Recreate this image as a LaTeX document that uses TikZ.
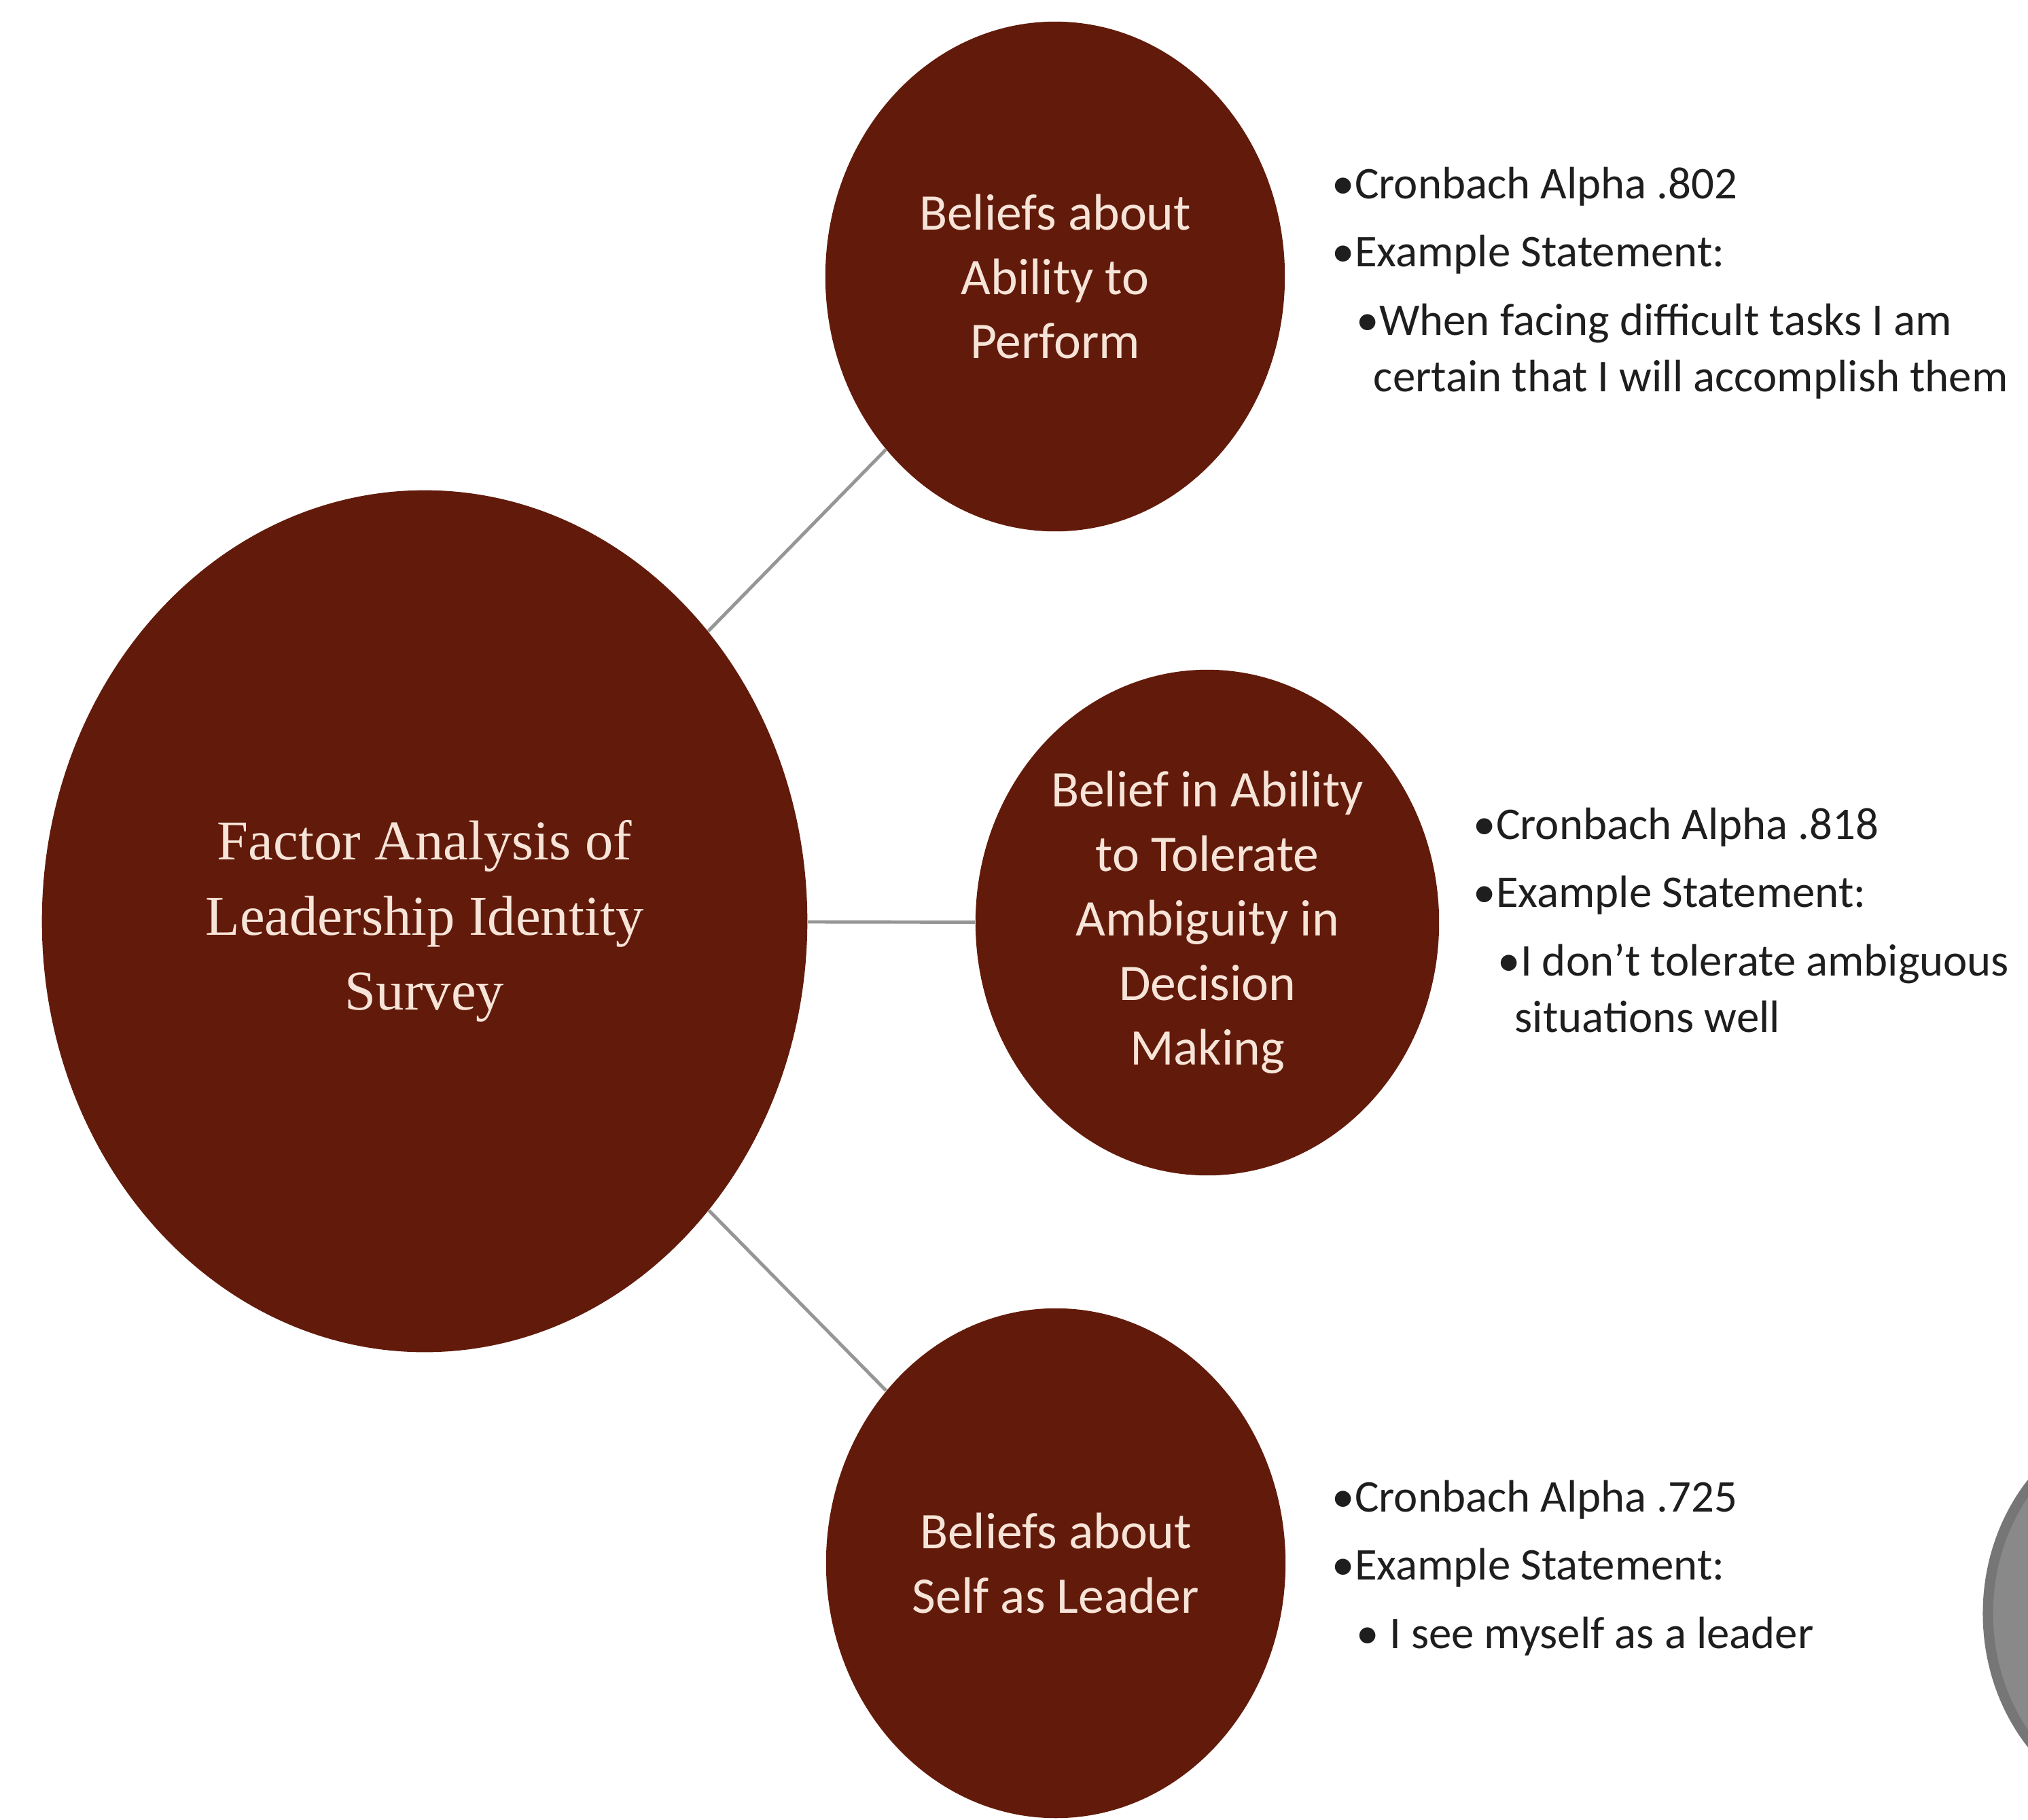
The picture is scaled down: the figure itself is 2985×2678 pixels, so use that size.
\documentclass[tikz,border=0pt]{standalone}
\usepackage{fontspec}
\setmainfont{Carlito}
\newfontfamily\serifface{Liberation Serif}
\usetikzlibrary{shapes.geometric}
\definecolor{maroon}{RGB}{98,27,11}
\definecolor{pinkish}{RGB}{247,228,216}
\definecolor{linkgray}{RGB}{150,150,150}
\definecolor{discgray}{RGB}{137,137,137}
\definecolor{rimgray}{RGB}{118,118,118}
\definecolor{notetext}{RGB}{30,30,30}
\begin{document}
\begin{tikzpicture}
  [x=0.01cm,y=-0.01cm]
  \tikzstyle{factor} = [ellipse,fill=maroon,text=pinkish,inner sep=0pt,align=center,font=\fontsize{21.5}{27}\selectfont]
  \tikzstyle{note} = [anchor=north west,inner sep=0pt,align=left,text=notetext,font=\fontsize{19}{23.8}\selectfont]
  \useasboundingbox (0,0) rectangle (2985,2678);
  % grey disc cut by the right edge
  \begin{scope}
    \clip (0,0) rectangle (2985,2678);
    \filldraw[fill=discgray,draw=rimgray,line width=4.3pt] (3188,2375) ellipse [x radius=262, y radius=292];
  \end{scope}
  \node[factor,minimum width=11.26cm,minimum height=12.68cm,font=\serifface\fontsize{23.5}{31.5}\selectfont] (survey) at (625,1356) {Factor Analysis of\\Leadership Identity\\Survey};
  \node[factor,minimum width=6.76cm,minimum height=7.5cm] (perform) at (1553,407) {Beliefs about\\Ability to\\Perform};
  \node[factor,minimum width=6.82cm,minimum height=7.44cm] (ambig) at (1777,1358) {Belief in Ability\\to Tolerate\\Ambiguity in\\Decision\\Making};
  \node[factor,minimum width=6.76cm,minimum height=7.5cm] (self) at (1554,2301) {Beliefs about\\Self as Leader};
  \foreach \dest in {perform,ambig,self}
   \draw[linkgray,line width=1.4pt] (survey) -- (\dest);
  % notes beside each factor
  \node[note] (nperform) at (1960,245) {•Cronbach Alpha .802\\[4.8pt]•Example Statement:\\[4.8pt]\hspace*{0.36cm}•When facing difficult tasks I am\\\hspace*{0.61cm}certain that I will accomplish them};
  \node[note] (nambig) at (2168,1188) {•Cronbach Alpha .818\\[4.8pt]•Example Statement:\\[4.8pt]\hspace*{0.36cm}•I don’t tolerate ambiguous\\\hspace*{0.61cm}situations well};
  \node[note] (nself) at (1960,2178) {•Cronbach Alpha .725\\[4.8pt]•Example Statement:\\[4.8pt]\hspace*{0.36cm}• I see myself as a leader};
\end{tikzpicture}
\end{document}
